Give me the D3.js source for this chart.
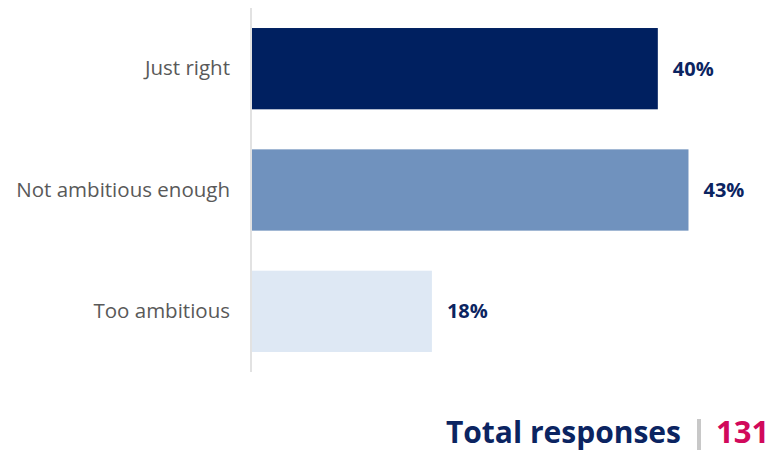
<!DOCTYPE html>
<html>
<head>
<meta charset="utf-8">
<script src="https://cdn.jsdelivr.net/npm/d3@7"></script>
<style>
  body { margin: 0; background: #fff; }
  svg { display: block; font-family: "Open Sans", sans-serif; }
</style>
</head>
<body>
<script>
// survey answers, top to bottom
const categories = ['Just right', 'Not ambitious enough', 'Too ambitious'];
const shares = [39.7, 42.7, 17.6];
const shareLabels = ['40%', '43%', '18%'];
const barColors = ['#002060', '#7092be', '#dee8f4'];
const totalResponses = 131;

const width = 776, height = 452;
const margin = { top: 8, left: 252, bottom: 80 };

const svg = d3.select('body').append('svg')
    .attr('width', width)
    .attr('height', height);

const x = d3.scaleLinear()
    .domain([0, 45])
    .range([margin.left, margin.left + 460]);

const y = d3.scaleBand()
    .domain(categories)
    .range([margin.top, height - margin.bottom])
    .paddingInner(0.33)
    .paddingOuter(0.165);

// vertical axis line
svg.append('line')
    .attr('x1', margin.left - 1).attr('x2', margin.left - 1)
    .attr('y1', margin.top).attr('y2', height - margin.bottom)
    .attr('stroke', '#d9d9d9')
    .attr('stroke-width', 1.5);

svg.selectAll('.bar')
    .data(categories)
    .enter()
    .append('rect')
    .attr('class', 'bar')
    .attr('x', x(0))
    .attr('y', d => y(d))
    .attr('width', (d, i) => x(shares[i]) - x(0))
    .attr('height', y.bandwidth())
    .attr('fill', (d, i) => barColors[i]);

svg.selectAll('.cat-label')
    .data(categories)
    .enter()
    .append('text')
    .attr('class', 'cat-label')
    .attr('x', margin.left - 22)
    .attr('y', d => y(d) + y.bandwidth() / 2 + 6.5)
    .attr('text-anchor', 'end')
    .attr('fill', '#595959')
    .style('font-size', '20.5px')
    .text(d => d);

svg.selectAll('.val-label')
    .data(categories)
    .enter()
    .append('text')
    .attr('class', 'val-label')
    .attr('x', (d, i) => x(shares[i]) + 15)
    .attr('y', d => y(d) + y.bandwidth() / 2 + 7)
    .attr('fill', '#0b2461')
    .style('font-size', '20px')
    .style('font-weight', 'bold')
    .text((d, i) => shareLabels[i]);

// total responses footer
const footer = svg.append('g');
footer.append('text')
    .attr('x', 681)
    .attr('y', 443)
    .attr('text-anchor', 'end')
    .attr('fill', '#0b2461')
    .style('font-size', '30px')
    .style('font-weight', 'bold')
    .text('Total responses');

footer.append('rect')
    .attr('x', 697)
    .attr('y', 419)
    .attr('width', 4)
    .attr('height', 31)
    .attr('fill', '#c8c8c8');

footer.append('text')
    .attr('x', 716)
    .attr('y', 443)
    .attr('fill', '#d1095b')
    .style('font-size', '31px')
    .style('font-weight', 'bold')
    .text(totalResponses);
</script>
</body>
</html>
